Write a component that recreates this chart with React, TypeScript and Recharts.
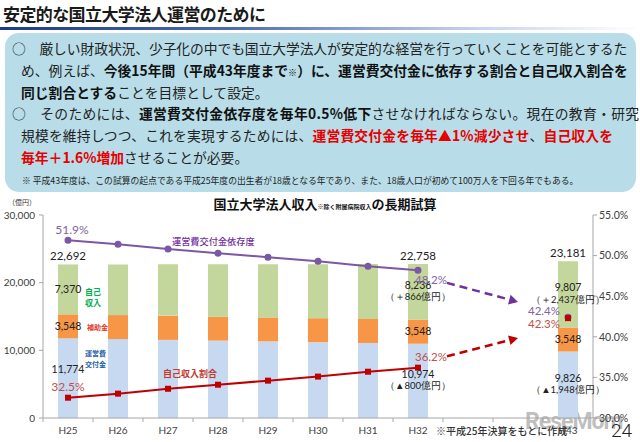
import React from 'react';
import { ComposedChart, Bar, Line, XAxis, YAxis, LabelList, ReferenceLine } from 'recharts';

const years = ['H25', 'H26', 'H27', 'H28', 'H29', 'H30', 'H31', 'H32', ' ', '  ', 'H43'];
// 億円 (two empty slots between H32 and H43)
const grant = [11774, 11660, 11545, 11430, 11317, 11202, 11088, 10974, null, null, 9826];
const subsidy = [3548, 3548, 3548, 3548, 3548, 3548, 3548, 3548, null, null, 3548];
const ownIncome = [7370, 7492, 7617, 7737, 7860, 7985, 8109, 8236, null, null, 9807];
// %
const grantRatio = [51.9, 51.4, 50.8, 50.3, 49.8, 49.3, 48.7, 48.2, null, null, 42.4];
const ownRatio = [32.5, 33.0, 33.6, 34.1, 34.6, 35.1, 35.7, 36.2, null, null, 42.3];

const totalText = ['22,692', '', '', '', '', '', '', '22,758', '', '', '23,181'];
const grantText = ['11,774', '', '', '', '', '', '', '10,974\n（▲800億円）', '', '', '9,826\n（▲1,948億円）'];
const subsidyText = ['3,548', '', '', '', '', '', '', '3,548', '', '', '3,548'];
const ownText = ['7,370', '', '', '', '', '', '', '8,236\n（＋866億円）', '', '', '9,807\n（＋2,437億円）'];
const labelledIdx = [0, 7, 10];

const leftTicks = [0, 10000, 20000, 30000];
const rightTicks = [30, 35, 40, 45, 50, 55];

// dashed arrows H32 -> H43 (y in %)
const arrows = [
  { color: '#7030a0', from: { x: 'H32', y: 47.6 }, to: { x: '  ', y: 44.3 } },
  { color: '#c00000', from: { x: 'H32', y: 36.7 }, to: { x: '  ', y: 39.85 } },
];

const JP = '"Noto Sans CJK JP", "Noto Sans", sans-serif';
const NUM = 'Lato, "Noto Sans", sans-serif';

const pos = (p: any) => {
  const vb = p.viewBox || p;
  return { x: vb.x ?? p.x, y: vb.y ?? p.y };
};

// text anchored at a point inside a bar segment
const segText = (texts: string[], mode: 'top' | 'mid' = 'mid', singleDy = 3.5) => (p: any) => {
  const t = texts[p.index];
  if (!t) return null;
  const { x, y } = pos(p);
  if (mode === 'top') {
    return (
      <text x={x} y={y - 4} textAnchor="middle" fontFamily={NUM} fontSize={11.5} fill="#222">{t}</text>
    );
  }
  const lines = t.split('\n');
  const y0 = lines.length === 1 ? y + singleDy : y - 3;
  return (
    <text textAnchor="middle" fontFamily={NUM} fontSize={10} fill="#222">
      {lines.map((l, i) => (
        <tspan key={i} x={x} y={y0 + i * 11.5} fontSize={i > 0 ? 9.5 : 10.5}>{l}</tspan>
      ))}
    </text>
  );
};

const grantRatioOffsets: Record<number, [number, number]> = { 0: [4, -10], 7: [13, 10], 10: [-24, -6] };
const ownRatioOffsets: Record<number, [number, number]> = { 0: [0, -11], 7: [13, -11], 10: [-24, 6] };

const pctText = (offsets: Record<number, [number, number]>, color: string) => (p: any) => {
  if (!labelledIdx.includes(p.index) || p.value == null) return null;
  const { x, y } = pos(p);
  const [dx, dy] = offsets[p.index];
  return (
    <text x={x + dx} y={y + dy + 4} textAnchor="middle" fontFamily={NUM} fontSize={p.index === 0 ? 12 : 11.5} fill={color}>
      {Number(p.value).toFixed(1)}%
    </text>
  );
};

const SquareDot = (p: any) => {
  if (p.cy == null || p.value == null) return <g key={p.index} />;
  return <rect key={p.index} x={p.cx - 3} y={p.cy - 3} width={6} height={6} fill="#c00000" />;
};

const XTick = (p: any) => {
  const { x, y, payload } = p;
  const axisY = y - 8;
  return (
    <g>
      <line x1={x - 25} y1={axisY} x2={x - 25} y2={axisY + 4} stroke="#a6a6a6" />
      <text x={x} y={y} dy="0.75em" textAnchor="middle" fontFamily={NUM} fontSize={10} fill="#404040">
        {String(payload.value).trim()}
      </text>
    </g>
  );
};

// dashed arrow, starting part-way along the segment so it clears the H32 labels
const ArrowShape = (p: any) => {
  const { x1, y1, x2, y2, stroke } = p;
  if ([x1, y1, x2, y2].some((v) => v == null || isNaN(v))) return null;
  const sx = x1 + 0.29 * (x2 - x1);
  const sy = y1 + 0.29 * (y2 - y1);
  const a = Math.atan2(y2 - sy, x2 - sx);
  const L = 9;
  const W = 5;
  const bx = x2 - L * Math.cos(a);
  const by = y2 - L * Math.sin(a);
  const pts = `${x2},${y2} ${bx - W * Math.sin(a)},${by + W * Math.cos(a)} ${bx + W * Math.sin(a)},${by - W * Math.cos(a)}`;
  return (
    <g>
      <line x1={sx} y1={sy} x2={bx} y2={by} stroke={stroke} strokeWidth={2.5} strokeDasharray="8 5" />
      <polygon points={pts} fill={stroke} />
    </g>
  );
};

const abs = (left: number, top: number, extra: React.CSSProperties = {}): React.CSSProperties => ({
  position: 'absolute',
  left,
  top,
  whiteSpace: 'nowrap',
  ...extra,
});

const B = ({ children, red }: { children: React.ReactNode; red?: boolean }) => (
  <span style={{ fontWeight: 700, color: red ? '#e60000' : '#111' }}>{children}</span>
);

const sum = (...v: (number | null)[]) => (v.some((n) => n == null) ? null : (v as number[]).reduce((a, b) => a + b, 0));

export default function App() {
  const data = years.map((year, i) => ({
    year,
    grant: grant[i],
    subsidy: subsidy[i],
    own: ownIncome[i],
    grantRatio: grantRatio[i],
    ownRatio: ownRatio[i],
  }));

  // invisible anchor lines that carry the value labels of the stacked bars
  const anchors = [
    { key: 'grantMid', fn: (d: any) => (d.grant == null ? null : d.grant / 2), content: segText(grantText, 'mid', -5) },
    { key: 'subsidyMid', fn: (d: any) => sum(d.grant, d.subsidy == null ? null : d.subsidy / 2), content: segText(subsidyText) },
    { key: 'ownMid', fn: (d: any) => sum(d.grant, d.subsidy, d.own == null ? null : d.own / 2), content: segText(ownText) },
    { key: 'total', fn: (d: any) => sum(d.grant, d.subsidy, d.own), content: segText(totalText, 'top') },
  ];

  const line = (top: number, left: number, content: React.ReactNode, ls = 0) => (
    <div style={abs(left, top, { fontSize: 13.8, lineHeight: '20px', color: '#222', letterSpacing: ls })}>{content}</div>
  );

  return (
    <div style={{ position: 'absolute', left: 0, top: 0, width: 640, height: 442, background: '#fff', overflow: 'hidden', fontFamily: JP }}>
      <div style={abs(3, 2, { fontSize: 17, fontWeight: 700, letterSpacing: -0.6, color: '#1a1a1a', lineHeight: '24px' })}>
        安定的な国立大学法人運営のために
      </div>
      <div style={abs(0, 27, { width: 640, height: 3, background: 'linear-gradient(to right, #1f3a86 0%, #4a68b0 35%, #c9d3ee 75%, rgba(255,255,255,0) 100%)' })} />

      <div style={abs(5, 33, { width: 631, height: 159, background: '#b8dde9', borderRadius: 14 })} />
      {line(38, 12, <>○　厳しい財政状況、少子化の中でも国立大学法人が安定的な経営を行っていくことを可能とするた</>, -0.1)}
      {line(60, 21, <>め、例えば、<B>今後15年間（平成43年度まで<span style={{ fontSize: 9 }}>※</span>）に、運営費交付金に依存する割合と自己収入割合を</B></>)}
      {line(82, 21, <><B>同じ割合とする</B>ことを目標として設定。</>)}
      {line(103, 12, <>○　そのためには、<B>運営費交付金依存度を毎年0.5%低下</B>させなければならない。現在の教育・研究</>, 0.3)}
      {line(125, 21, <>規模を維持しつつ、これを実現するためには、<B red>運営費交付金を毎年▲1%減少させ</B>、<B red>自己収入を</B></>, 0.15)}
      {line(147, 21, <><B red>毎年＋1.6%増加</B>させることが必要。</>)}
      <div style={abs(22, 175, { fontSize: 8.8, lineHeight: '12px', color: '#222' })}>
        ※ 平成43年度は、この試算の起点である平成25年度の出生者が18歳となる年であり、また、18歳人口が初めて100万人を下回る年でもある。
      </div>

      <div style={abs(525, 409, { fontSize: 23, fontWeight: 700, fontFamily: 'Roboto, sans-serif', color: 'rgba(110,110,110,0.45)', letterSpacing: -1, lineHeight: '26px' })}>ReseMom</div>

      <div style={abs(0, 190)}>
        <ComposedChart width={640} height={252} data={data} margin={{ top: 25, right: 0, bottom: 0, left: 0 }}>
          <XAxis dataKey="year" height={24} tickLine={false} tickSize={4} tickMargin={4} tick={<XTick />} stroke="#a6a6a6" interval={0} />
          <YAxis
            yAxisId="l"
            width={43}
            domain={[0, 30000]}
            ticks={leftTicks}
            tickFormatter={(v: number) => v.toLocaleString('en-US')}
            tickSize={4}
            tickMargin={4}
            stroke="#a6a6a6"
            tick={{ fontFamily: NUM, fontSize: 10, fill: '#404040' }}
          />
          <YAxis
            yAxisId="r"
            orientation="right"
            width={47}
            domain={[30, 55]}
            ticks={rightTicks}
            tickFormatter={(v: number) => `${v.toFixed(1)}%`}
            tickSize={4}
            tickMargin={2}
            stroke="#a6a6a6"
            tick={{ fontFamily: NUM, fontSize: 10.5, fill: '#404040', textAnchor: 'start' }}
          />
          <Bar yAxisId="l" dataKey="grant" stackId="a" fill="#c6d9f1" barSize={20} isAnimationActive={false} />
          <Bar yAxisId="l" dataKey="subsidy" stackId="a" fill="#f79646" barSize={20} isAnimationActive={false} />
          <Bar yAxisId="l" dataKey="own" stackId="a" fill="#c3d69b" barSize={20} isAnimationActive={false} />
          {anchors.map((a) => (
            <Line
              key={a.key}
              yAxisId="l"
              dataKey={a.fn}
              stroke="none"
              dot={false}
              activeDot={false}
              legendType="none"
              isAnimationActive={false}
            >
              <LabelList content={a.content} />
            </Line>
          ))}
          <Line
            yAxisId="r"
            dataKey="grantRatio"
            stroke="#7b58a6"
            strokeWidth={2}
            dot={{ r: 2.5, fill: '#7b58a6', stroke: '#7b58a6' }}
            isAnimationActive={false}
          >
            <LabelList dataKey="grantRatio" content={pctText(grantRatioOffsets, '#8064a2')} />
          </Line>
          <Line yAxisId="r" dataKey="ownRatio" stroke="#c00000" strokeWidth={2} dot={<SquareDot />} isAnimationActive={false}>
            <LabelList dataKey="ownRatio" content={pctText(ownRatioOffsets, '#c0504d')} />
          </Line>
          {arrows.map((a, i) => (
            <ReferenceLine
              key={i}
              yAxisId="r"
              segment={[a.from, a.to]}
              stroke={a.color}
              shape={<ArrowShape />}
              ifOverflow="visible"
            />
          ))}
        </ComposedChart>
      </div>

      <div style={abs(0, 194, { width: 650, textAlign: 'center', color: '#111', lineHeight: '16px' })}>
        <span style={{ fontSize: 13, fontWeight: 700 }}>国立大学法人収入</span>
        <span style={{ fontSize: 6, fontWeight: 700 }}>※除く附属病院収入</span>
        <span style={{ fontSize: 13, fontWeight: 700 }}>の長期試算</span>
      </div>
      <div style={abs(8, 197, { fontSize: 7, color: '#333' })}>（億円）</div>

      <div style={abs(85, 286, { fontSize: 8, fontWeight: 700, color: '#00b050', lineHeight: '11px' })}>自己<br />収入</div>
      <div style={abs(87, 322, { fontSize: 7, fontWeight: 700, color: '#e03c31', lineHeight: '10px' })}>補助金</div>
      <div style={abs(85, 348, { fontSize: 7, fontWeight: 700, color: '#1f5fa8', lineHeight: '11px' })}>運営費<br />交付金</div>
      <div style={abs(172, 235, { fontSize: 9.2, fontWeight: 500, color: '#7030a0', lineHeight: '12px' })}>運営費交付金依存度</div>
      <div style={abs(163, 367, { fontSize: 9, fontWeight: 700, color: '#c0392b', lineHeight: '13px' })}>自己収入割合</div>

      <div style={abs(436, 424, { fontSize: 10, fontWeight: 500, color: '#333', lineHeight: '13px' })}>※平成25年決算をもとに作成</div>
      <div style={abs(611, 420, { fontSize: 19, fontFamily: 'Roboto, sans-serif', fontWeight: 300, color: '#222', lineHeight: '22px' })}>24</div>
    </div>
  );
}
